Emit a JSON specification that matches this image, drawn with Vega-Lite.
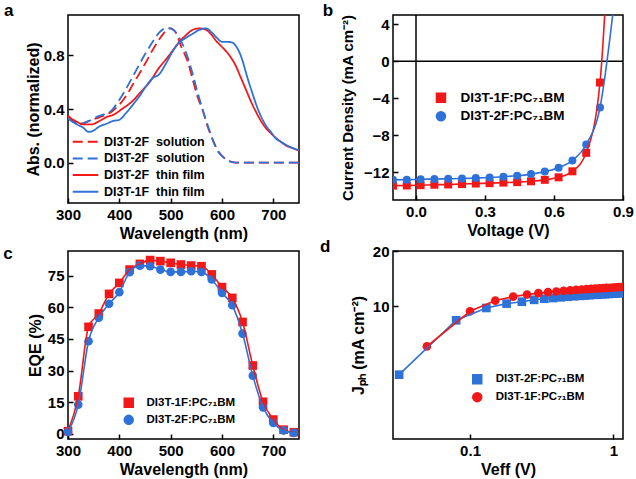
{
"$schema": "https://vega.github.io/schema/vega-lite/v6.json",
"padding": {"left": 2, "top": 0, "right": 5, "bottom": 3},
"config": {
 "font": "Liberation Sans",
 "view": {"stroke": "black", "strokeWidth": 1.5},
 "axis": {"grid": false, "domain": false, "tickColor": "black", "tickSize": -5, "tickWidth": 1.5, "labelFont": "Liberation Sans", "labelFontSize": 15, "labelFontWeight": "bold", "labelColor": "black", "labelPadding": 9, "labelFlush": false, "labelOverlap": false, "titleFont": "Liberation Sans", "titleFontSize": 16, "titleFontWeight": "bold", "titleColor": "black", "titlePadding": 3},
 "legend": {"labelFont": "Liberation Sans", "labelFontWeight": "bold", "labelColor": "black", "padding": 0},
 "title": {"fontSize": 17, "fontWeight": "bold", "anchor": "start", "frame": "group", "color": "black", "baseline": "alphabetic"}
},
"resolve": {"scale": {"color": "independent", "stroke": "independent", "shape": "independent", "strokeDash": "independent"}},
"bounds": "flush",
"columns": 2,
"spacing": {"row": 48, "column": 94},
"concat": [
 {
  "title": {"text": "a", "dx": -64, "offset": -5.35},
  "width": 231, "height": 188,
  "data": {"values": [
   {"s":"s1","w":300,"a":0.35},{"s":"s1","w":312,"a":0.31},{"s":"s1","w":325,"a":0.29},{"s":"s1","w":340,"a":0.31},{"s":"s1","w":355,"a":0.33},{"s":"s1","w":370,"a":0.35},{"s":"s1","w":385,"a":0.38},{"s":"s1","w":397,"a":0.42},{"s":"s1","w":410,"a":0.48},{"s":"s1","w":426,"a":0.58},{"s":"s1","w":440,"a":0.67},{"s":"s1","w":452,"a":0.75},{"s":"s1","w":465,"a":0.84},{"s":"s1","w":478,"a":0.92},{"s":"s1","w":490,"a":0.98},{"s":"s1","w":497,"a":1.0},{"s":"s1","w":505,"a":0.99},{"s":"s1","w":510,"a":0.97},{"s":"s1","w":520,"a":0.87},{"s":"s1","w":533,"a":0.755},{"s":"s1","w":543,"a":0.62},{"s":"s1","w":552,"a":0.495},{"s":"s1","w":562,"a":0.395},{"s":"s1","w":572,"a":0.27},{"s":"s1","w":582,"a":0.17},{"s":"s1","w":591,"a":0.097},{"s":"s1","w":607,"a":0.027},{"s":"s1","w":620,"a":0.005},{"s":"s1","w":633,"a":0.0},{"s":"s1","w":680,"a":0.0},{"s":"s1","w":750,"a":0.0},
   {"s":"s2","w":300,"a":0.33},{"s":"s2","w":312,"a":0.30},{"s":"s2","w":325,"a":0.29},{"s":"s2","w":340,"a":0.31},{"s":"s2","w":355,"a":0.34},{"s":"s2","w":370,"a":0.36},{"s":"s2","w":385,"a":0.39},{"s":"s2","w":397,"a":0.45},{"s":"s2","w":410,"a":0.53},{"s":"s2","w":426,"a":0.64},{"s":"s2","w":440,"a":0.74},{"s":"s2","w":452,"a":0.82},{"s":"s2","w":465,"a":0.9},{"s":"s2","w":478,"a":0.97},{"s":"s2","w":490,"a":1.0},{"s":"s2","w":500,"a":1.0},{"s":"s2","w":510,"a":0.97},{"s":"s2","w":517,"a":0.93},{"s":"s2","w":530,"a":0.82},{"s":"s2","w":543,"a":0.66},{"s":"s2","w":552,"a":0.53},{"s":"s2","w":562,"a":0.4},{"s":"s2","w":572,"a":0.28},{"s":"s2","w":582,"a":0.17},{"s":"s2","w":591,"a":0.09},{"s":"s2","w":600,"a":0.05},{"s":"s2","w":610,"a":0.02},{"s":"s2","w":620,"a":0.005},{"s":"s2","w":633,"a":0.0},{"s":"s2","w":680,"a":0.0},{"s":"s2","w":750,"a":0.0},
   {"s":"s3","w":300,"a":0.34},{"s":"s3","w":315,"a":0.31},{"s":"s3","w":330,"a":0.285},{"s":"s3","w":345,"a":0.285},{"s":"s3","w":361,"a":0.31},{"s":"s3","w":375,"a":0.34},{"s":"s3","w":390,"a":0.36},{"s":"s3","w":405,"a":0.4},{"s":"s3","w":426,"a":0.46},{"s":"s3","w":440,"a":0.52},{"s":"s3","w":459,"a":0.6},{"s":"s3","w":478,"a":0.71},{"s":"s3","w":491,"a":0.77},{"s":"s3","w":505,"a":0.84},{"s":"s3","w":517,"a":0.9},{"s":"s3","w":530,"a":0.95},{"s":"s3","w":543,"a":0.99},{"s":"s3","w":556,"a":1.0},{"s":"s3","w":569,"a":0.99},{"s":"s3","w":580,"a":0.95},{"s":"s3","w":588,"a":0.91},{"s":"s3","w":598,"a":0.87},{"s":"s3","w":608,"a":0.83},{"s":"s3","w":618,"a":0.78},{"s":"s3","w":627,"a":0.72},{"s":"s3","w":636,"a":0.64},{"s":"s3","w":646,"a":0.55},{"s":"s3","w":656,"a":0.46},{"s":"s3","w":666,"a":0.38},{"s":"s3","w":676,"a":0.31},{"s":"s3","w":685,"a":0.26},{"s":"s3","w":695,"a":0.22},{"s":"s3","w":705,"a":0.185},{"s":"s3","w":715,"a":0.155},{"s":"s3","w":724,"a":0.13},{"s":"s3","w":737,"a":0.11},{"s":"s3","w":750,"a":0.09},
   {"s":"s4","w":300,"a":0.33},{"s":"s4","w":315,"a":0.29},{"s":"s4","w":330,"a":0.26},{"s":"s4","w":340,"a":0.23},{"s":"s4","w":350,"a":0.24},{"s":"s4","w":361,"a":0.27},{"s":"s4","w":375,"a":0.29},{"s":"s4","w":387,"a":0.31},{"s":"s4","w":400,"a":0.32},{"s":"s4","w":413,"a":0.37},{"s":"s4","w":426,"a":0.43},{"s":"s4","w":440,"a":0.5},{"s":"s4","w":452,"a":0.57},{"s":"s4","w":465,"a":0.63},{"s":"s4","w":478,"a":0.66},{"s":"s4","w":491,"a":0.74},{"s":"s4","w":504,"a":0.83},{"s":"s4","w":515,"a":0.89},{"s":"s4","w":530,"a":0.93},{"s":"s4","w":543,"a":0.96},{"s":"s4","w":556,"a":0.99},{"s":"s4","w":569,"a":1.0},{"s":"s4","w":580,"a":0.97},{"s":"s4","w":590,"a":0.93},{"s":"s4","w":600,"a":0.9},{"s":"s4","w":610,"a":0.9},{"s":"s4","w":620,"a":0.895},{"s":"s4","w":627,"a":0.87},{"s":"s4","w":633,"a":0.83},{"s":"s4","w":640,"a":0.76},{"s":"s4","w":646,"a":0.68},{"s":"s4","w":653,"a":0.59},{"s":"s4","w":659,"a":0.52},{"s":"s4","w":666,"a":0.44},{"s":"s4","w":672,"a":0.38},{"s":"s4","w":685,"a":0.28},{"s":"s4","w":695,"a":0.23},{"s":"s4","w":705,"a":0.18},{"s":"s4","w":715,"a":0.155},{"s":"s4","w":724,"a":0.135},{"s":"s4","w":737,"a":0.11},{"s":"s4","w":750,"a":0.095}
  ]},
  "mark": {"type": "line", "interpolate": "monotone", "strokeWidth": 1.8, "clip": true},
  "encoding": {
   "x": {"field": "w", "type": "quantitative", "scale": {"domain": [300, 750], "nice": false, "zero": false}, "axis": {"values": [300, 400, 500, 600, 700], "title": "Wavelength (nm)"}},
   "y": {"field": "a", "type": "quantitative", "scale": {"domain": [-0.3, 1.1], "nice": false, "zero": false}, "axis": {"values": [0, 0.4, 0.8], "format": ".1f", "title": "Abs. (normalized)", "titlePadding": 2}},
   "color": {"field": "s", "type": "nominal", "scale": {"domain": ["s1", "s2", "s3", "s4"], "range": ["#f21818", "#2e72d8", "#f21818", "#2e72d8"]},
     "legend": {"orient": "none", "legendX": 8.5, "legendY": 117.7, "title": null, "symbolType": "M-1.6,0H1.6", "symbolSize": 256, "symbolStrokeWidth": 2, "labelOffset": 9.5, "rowPadding": 0.7, "labelFontSize": 12.5,
       "labelExpr": "datum.value == 's1' ? 'DI3T-2F\u00a0 solution' : datum.value == 's2' ? 'DI3T-2F\u00a0 solution' : datum.value == 's3' ? 'DI3T-2F\u00a0 thin film' : 'DI3T-1F\u00a0 thin film'",
       "encode": {"symbols": {"update": {"strokeDash": {"signal": "datum.value == 's1' || datum.value == 's2' ? [10, 5] : [1, 0]"}}}}}},
   "strokeDash": {"field": "s", "type": "nominal", "scale": {"domain": ["s1", "s2", "s3", "s4"], "range": [[10, 5], [10, 5], [1, 0], [1, 0]]}, "legend": null}
  }
 },
 {
  "title": {"text": "b", "dx": -70.3, "offset": -5.35},
  "width": 230, "height": 185,
  "layer": [
   {"data": {"values": [{}]}, "mark": {"type": "rule", "color": "black", "strokeWidth": 1.5},
    "encoding": {"x": {"datum": 0, "type": "quantitative", "scale": {"domain": [-0.1, 0.9], "nice": false, "zero": false}, "axis": {"values": [0, 0.3, 0.6, 0.9], "format": ".1f", "title": "Voltage (V)"}}}},
   {"data": {"values": [{}]}, "mark": {"type": "rule", "color": "black", "strokeWidth": 1.5},
    "encoding": {"y": {"datum": 0, "type": "quantitative", "scale": {"domain": [-15, 5], "nice": false, "zero": false}, "axis": {"values": [-12, -8, -4, 0, 4], "title": "Current Density (mA cm⁻²)", "titleFontSize": 15, "titlePadding": 8}}}},
   {
    "data": {"values": [
     {"s":"DI3T-1F:PC₇₁BM","v":-0.1,"j":-13.45},{"s":"DI3T-1F:PC₇₁BM","v":-0.04,"j":-13.43},{"s":"DI3T-1F:PC₇₁BM","v":0.02,"j":-13.4},{"s":"DI3T-1F:PC₇₁BM","v":0.08,"j":-13.35},{"s":"DI3T-1F:PC₇₁BM","v":0.14,"j":-13.32},{"s":"DI3T-1F:PC₇₁BM","v":0.2,"j":-13.28},{"s":"DI3T-1F:PC₇₁BM","v":0.26,"j":-13.22},{"s":"DI3T-1F:PC₇₁BM","v":0.32,"j":-13.18},{"s":"DI3T-1F:PC₇₁BM","v":0.38,"j":-13.12},{"s":"DI3T-1F:PC₇₁BM","v":0.44,"j":-13.07},{"s":"DI3T-1F:PC₇₁BM","v":0.5,"j":-12.98},{"s":"DI3T-1F:PC₇₁BM","v":0.56,"j":-12.82},{"s":"DI3T-1F:PC₇₁BM","v":0.62,"j":-12.55},{"s":"DI3T-1F:PC₇₁BM","v":0.68,"j":-11.9},{"s":"DI3T-1F:PC₇₁BM","v":0.74,"j":-9.9},{"s":"DI3T-1F:PC₇₁BM","v":0.8,"j":-2.3},{"s":"DI3T-1F:PC₇₁BM","v":0.86,"j":25},
     {"s":"DI3T-2F:PC₇₁BM","v":-0.1,"j":-12.82},{"s":"DI3T-2F:PC₇₁BM","v":-0.04,"j":-12.8},{"s":"DI3T-2F:PC₇₁BM","v":0.02,"j":-12.76},{"s":"DI3T-2F:PC₇₁BM","v":0.08,"j":-12.74},{"s":"DI3T-2F:PC₇₁BM","v":0.14,"j":-12.71},{"s":"DI3T-2F:PC₇₁BM","v":0.2,"j":-12.68},{"s":"DI3T-2F:PC₇₁BM","v":0.26,"j":-12.63},{"s":"DI3T-2F:PC₇₁BM","v":0.32,"j":-12.56},{"s":"DI3T-2F:PC₇₁BM","v":0.38,"j":-12.48},{"s":"DI3T-2F:PC₇₁BM","v":0.44,"j":-12.38},{"s":"DI3T-2F:PC₇₁BM","v":0.5,"j":-12.2},{"s":"DI3T-2F:PC₇₁BM","v":0.56,"j":-11.93},{"s":"DI3T-2F:PC₇₁BM","v":0.62,"j":-11.52},{"s":"DI3T-2F:PC₇₁BM","v":0.68,"j":-10.72},{"s":"DI3T-2F:PC₇₁BM","v":0.74,"j":-9.0},{"s":"DI3T-2F:PC₇₁BM","v":0.8,"j":-5.0},{"s":"DI3T-2F:PC₇₁BM","v":0.86,"j":6}
    ]},
    "encoding": {
     "x": {"field": "v", "type": "quantitative", "scale": {"domain": [-0.1, 0.9], "nice": false, "zero": false}, "axis": {"values": [0, 0.3, 0.6, 0.9], "format": ".1f", "title": "Voltage (V)"}},
     "y": {"field": "j", "type": "quantitative", "scale": {"domain": [-15, 5], "nice": false, "zero": false}, "axis": {"values": [-12, -8, -4, 0, 4], "title": "Current Density (mA cm⁻²)", "titleFontSize": 15, "titlePadding": 8}}
    },
    "layer": [
     {"mark": {"type": "point", "filled": true, "opacity": 1, "size": 64, "clip": true},
      "encoding": {
       "color": {"field": "s", "type": "nominal", "scale": {"domain": ["DI3T-1F:PC₇₁BM", "DI3T-2F:PC₇₁BM"], "range": ["#f21818", "#2e72d8"]},
         "legend": {"orient": "none", "legendX": 41.2, "legendY": 76, "title": null, "symbolSize": 81, "labelOffset": 12.8, "rowPadding": 2.5, "labelFontSize": 13.5}},
       "shape": {"field": "s", "type": "nominal", "scale": {"domain": ["DI3T-1F:PC₇₁BM", "DI3T-2F:PC₇₁BM"], "range": ["square", "circle"]},
         "legend": {"orient": "none", "legendX": 41.2, "legendY": 76, "title": null, "symbolSize": 81, "labelOffset": 12.8, "rowPadding": 2.5, "labelFontSize": 13.5}}
      }},
     {"mark": {"type": "line", "interpolate": "monotone", "strokeWidth": 1.6, "clip": true},
      "encoding": {"stroke": {"field": "s", "type": "nominal", "scale": {"domain": ["DI3T-1F:PC₇₁BM", "DI3T-2F:PC₇₁BM"], "range": ["#f21818", "#2e72d8"]},
         "legend": {"orient": "none", "legendX": 41.2, "legendY": 76, "title": null, "symbolSize": 81, "labelOffset": 12.8, "rowPadding": 2.5, "labelFontSize": 13.5}}}}
    ]
   }
  ]
 },
 {
  "title": {"text": "c", "dx": -64.7, "offset": -11.65},
  "width": 231, "height": 188,
  "data": {"values": [
   {"s":"DI3T-1F:PC₇₁BM","w":300,"e":1.3},{"s":"DI3T-1F:PC₇₁BM","w":320,"e":17.8},{"s":"DI3T-1F:PC₇₁BM","w":340,"e":50.7},{"s":"DI3T-1F:PC₇₁BM","w":360,"e":57},{"s":"DI3T-1F:PC₇₁BM","w":380,"e":66.3},{"s":"DI3T-1F:PC₇₁BM","w":400,"e":71.5},{"s":"DI3T-1F:PC₇₁BM","w":420,"e":77.8},{"s":"DI3T-1F:PC₇₁BM","w":440,"e":80.5},{"s":"DI3T-1F:PC₇₁BM","w":460,"e":82.3},{"s":"DI3T-1F:PC₇₁BM","w":480,"e":81.8},{"s":"DI3T-1F:PC₇₁BM","w":500,"e":81},{"s":"DI3T-1F:PC₇₁BM","w":520,"e":80.2},{"s":"DI3T-1F:PC₇₁BM","w":540,"e":79.7},{"s":"DI3T-1F:PC₇₁BM","w":560,"e":79.4},{"s":"DI3T-1F:PC₇₁BM","w":580,"e":75.5},{"s":"DI3T-1F:PC₇₁BM","w":600,"e":69.5},{"s":"DI3T-1F:PC₇₁BM","w":620,"e":64.4},{"s":"DI3T-1F:PC₇₁BM","w":640,"e":53},{"s":"DI3T-1F:PC₇₁BM","w":660,"e":32.4},{"s":"DI3T-1F:PC₇₁BM","w":680,"e":15.2},{"s":"DI3T-1F:PC₇₁BM","w":700,"e":6.8},{"s":"DI3T-1F:PC₇₁BM","w":720,"e":2},{"s":"DI3T-1F:PC₇₁BM","w":740,"e":0.8},
   {"s":"DI3T-2F:PC₇₁BM","w":300,"e":1},{"s":"DI3T-2F:PC₇₁BM","w":320,"e":13.9},{"s":"DI3T-2F:PC₇₁BM","w":340,"e":43.9},{"s":"DI3T-2F:PC₇₁BM","w":360,"e":55},{"s":"DI3T-2F:PC₇₁BM","w":380,"e":61.6},{"s":"DI3T-2F:PC₇₁BM","w":400,"e":67.1},{"s":"DI3T-2F:PC₇₁BM","w":420,"e":76.6},{"s":"DI3T-2F:PC₇₁BM","w":440,"e":79.7},{"s":"DI3T-2F:PC₇₁BM","w":460,"e":79.4},{"s":"DI3T-2F:PC₇₁BM","w":480,"e":77.8},{"s":"DI3T-2F:PC₇₁BM","w":500,"e":76.7},{"s":"DI3T-2F:PC₇₁BM","w":520,"e":76.7},{"s":"DI3T-2F:PC₇₁BM","w":540,"e":77},{"s":"DI3T-2F:PC₇₁BM","w":560,"e":76.7},{"s":"DI3T-2F:PC₇₁BM","w":580,"e":73.1},{"s":"DI3T-2F:PC₇₁BM","w":600,"e":66.8},{"s":"DI3T-2F:PC₇₁BM","w":620,"e":60.9},{"s":"DI3T-2F:PC₇₁BM","w":640,"e":47.5},{"s":"DI3T-2F:PC₇₁BM","w":660,"e":27.6},{"s":"DI3T-2F:PC₇₁BM","w":680,"e":12.6},{"s":"DI3T-2F:PC₇₁BM","w":700,"e":5.2},{"s":"DI3T-2F:PC₇₁BM","w":720,"e":1.6},{"s":"DI3T-2F:PC₇₁BM","w":740,"e":0.5}
  ]},
  "encoding": {
   "x": {"field": "w", "type": "quantitative", "scale": {"domain": [300, 750], "nice": false, "zero": false}, "axis": {"values": [300, 400, 500, 600, 700], "title": "Wavelength (nm)"}},
   "y": {"field": "e", "type": "quantitative", "scale": {"domain": [-2.4, 86.6], "nice": false, "zero": false}, "axis": {"values": [0, 15, 30, 45, 60, 75], "title": "EQE (%)", "titlePadding": 4}}
  },
  "layer": [
   {"mark": {"type": "point", "filled": true, "opacity": 1, "size": 75},
    "encoding": {
     "color": {"field": "s", "type": "nominal", "scale": {"domain": ["DI3T-1F:PC₇₁BM", "DI3T-2F:PC₇₁BM"], "range": ["#f21818", "#2e72d8"]},
       "legend": {"orient": "none", "legendX": 55, "legendY": 146, "title": null, "symbolSize": 81, "labelOffset": 12, "rowPadding": 1.1, "labelFontSize": 11.5}},
     "shape": {"field": "s", "type": "nominal", "scale": {"domain": ["DI3T-1F:PC₇₁BM", "DI3T-2F:PC₇₁BM"], "range": ["square", "circle"]},
       "legend": {"orient": "none", "legendX": 55, "legendY": 146, "title": null, "symbolSize": 81, "labelOffset": 12, "rowPadding": 1.1, "labelFontSize": 11.5}}
    }},
   {"mark": {"type": "line", "interpolate": "monotone", "strokeWidth": 1.6},
    "encoding": {"stroke": {"field": "s", "type": "nominal", "scale": {"domain": ["DI3T-1F:PC₇₁BM", "DI3T-2F:PC₇₁BM"], "range": ["#f21818", "#2e72d8"]},
       "legend": {"orient": "none", "legendX": 55, "legendY": 146, "title": null, "symbolSize": 81, "labelOffset": 12, "rowPadding": 1.1, "labelFontSize": 11.5}}}}
  ]
 },
 {
  "title": {"text": "d", "dx": -73, "offset": -11.65},
  "width": 230, "height": 188,
  "data": {"values": [
   {"s":"DI3T-2F:PC₇₁BM","v":0.032,"j":4.25},{"s":"DI3T-2F:PC₇₁BM","v":0.08,"j":8.4},{"s":"DI3T-2F:PC₇₁BM","v":0.13,"j":9.8},{"s":"DI3T-2F:PC₇₁BM","v":0.18,"j":10.35},{"s":"DI3T-2F:PC₇₁BM","v":0.23,"j":10.6},{"s":"DI3T-2F:PC₇₁BM","v":0.28,"j":10.85},{"s":"DI3T-2F:PC₇₁BM","v":0.33,"j":11.0},{"s":"DI3T-2F:PC₇₁BM","v":0.38,"j":11.1},{"s":"DI3T-2F:PC₇₁BM","v":0.43,"j":11.2},{"s":"DI3T-2F:PC₇₁BM","v":0.48,"j":11.28},{"s":"DI3T-2F:PC₇₁BM","v":0.53,"j":11.35},{"s":"DI3T-2F:PC₇₁BM","v":0.58,"j":11.4},{"s":"DI3T-2F:PC₇₁BM","v":0.63,"j":11.45},{"s":"DI3T-2F:PC₇₁BM","v":0.68,"j":11.5},{"s":"DI3T-2F:PC₇₁BM","v":0.73,"j":11.55},{"s":"DI3T-2F:PC₇₁BM","v":0.78,"j":11.58},{"s":"DI3T-2F:PC₇₁BM","v":0.83,"j":11.62},{"s":"DI3T-2F:PC₇₁BM","v":0.88,"j":11.65},{"s":"DI3T-2F:PC₇₁BM","v":0.93,"j":11.68},{"s":"DI3T-2F:PC₇₁BM","v":0.98,"j":11.72},{"s":"DI3T-2F:PC₇₁BM","v":1.03,"j":11.75},{"s":"DI3T-2F:PC₇₁BM","v":1.08,"j":11.78},{"s":"DI3T-2F:PC₇₁BM","v":1.13,"j":11.8},
   {"s":"DI3T-1F:PC₇₁BM","v":0.05,"j":6.06},{"s":"DI3T-1F:PC₇₁BM","v":0.1,"j":9.4},{"s":"DI3T-1F:PC₇₁BM","v":0.15,"j":10.75},{"s":"DI3T-1F:PC₇₁BM","v":0.2,"j":11.3},{"s":"DI3T-1F:PC₇₁BM","v":0.25,"j":11.6},{"s":"DI3T-1F:PC₇₁BM","v":0.3,"j":11.8},{"s":"DI3T-1F:PC₇₁BM","v":0.35,"j":11.95},{"s":"DI3T-1F:PC₇₁BM","v":0.4,"j":12.05},{"s":"DI3T-1F:PC₇₁BM","v":0.45,"j":12.15},{"s":"DI3T-1F:PC₇₁BM","v":0.5,"j":12.22},{"s":"DI3T-1F:PC₇₁BM","v":0.55,"j":12.3},{"s":"DI3T-1F:PC₇₁BM","v":0.6,"j":12.35},{"s":"DI3T-1F:PC₇₁BM","v":0.65,"j":12.4},{"s":"DI3T-1F:PC₇₁BM","v":0.7,"j":12.45},{"s":"DI3T-1F:PC₇₁BM","v":0.75,"j":12.5},{"s":"DI3T-1F:PC₇₁BM","v":0.8,"j":12.53},{"s":"DI3T-1F:PC₇₁BM","v":0.85,"j":12.57},{"s":"DI3T-1F:PC₇₁BM","v":0.9,"j":12.6},{"s":"DI3T-1F:PC₇₁BM","v":0.95,"j":12.63},{"s":"DI3T-1F:PC₇₁BM","v":1.0,"j":12.66},{"s":"DI3T-1F:PC₇₁BM","v":1.05,"j":12.7},{"s":"DI3T-1F:PC₇₁BM","v":1.1,"j":12.72},{"s":"DI3T-1F:PC₇₁BM","v":1.15,"j":12.75}
  ]},
  "encoding": {
   "x": {"field": "v", "type": "quantitative", "scale": {"type": "log", "domain": [0.029, 1.168], "nice": false}, "axis": {"values": [0.1, 1], "labelExpr": "datum.value >= 1 ? '1' : '0.1'", "title": "Veff (V)"}},
   "y": {"field": "j", "type": "quantitative", "scale": {"type": "log", "domain": [1.9, 20], "nice": false}, "axis": {"values": [10, 20], "labelExpr": "datum.value > 15 ? '20' : '10'", "title": "Jₚₕ (mA cm⁻²)", "titlePadding": 6}}
  },
  "layer": [
   {"mark": {"type": "point", "filled": true, "opacity": 1, "size": 75, "clip": true},
    "encoding": {
     "color": {"field": "s", "type": "nominal", "scale": {"domain": ["DI3T-2F:PC₇₁BM", "DI3T-1F:PC₇₁BM"], "range": ["#2e72d8", "#f21818"]},
       "legend": {"orient": "none", "legendX": 78.5, "legendY": 122.5, "title": null, "symbolSize": 81, "labelOffset": 12.8, "rowPadding": 1.9, "labelFontSize": 11.5}},
     "shape": {"field": "s", "type": "nominal", "scale": {"domain": ["DI3T-2F:PC₇₁BM", "DI3T-1F:PC₇₁BM"], "range": ["square", "circle"]},
       "legend": {"orient": "none", "legendX": 78.5, "legendY": 122.5, "title": null, "symbolSize": 81, "labelOffset": 12.8, "rowPadding": 1.9, "labelFontSize": 11.5}}
    }},
   {"mark": {"type": "line", "strokeWidth": 1.6, "clip": true},
    "encoding": {"stroke": {"field": "s", "type": "nominal", "scale": {"domain": ["DI3T-2F:PC₇₁BM", "DI3T-1F:PC₇₁BM"], "range": ["#2e72d8", "#f21818"]},
       "legend": {"orient": "none", "legendX": 78.5, "legendY": 122.5, "title": null, "symbolSize": 81, "labelOffset": 12.8, "rowPadding": 1.9, "labelFontSize": 11.5}}}}
  ]
 }
]
}
